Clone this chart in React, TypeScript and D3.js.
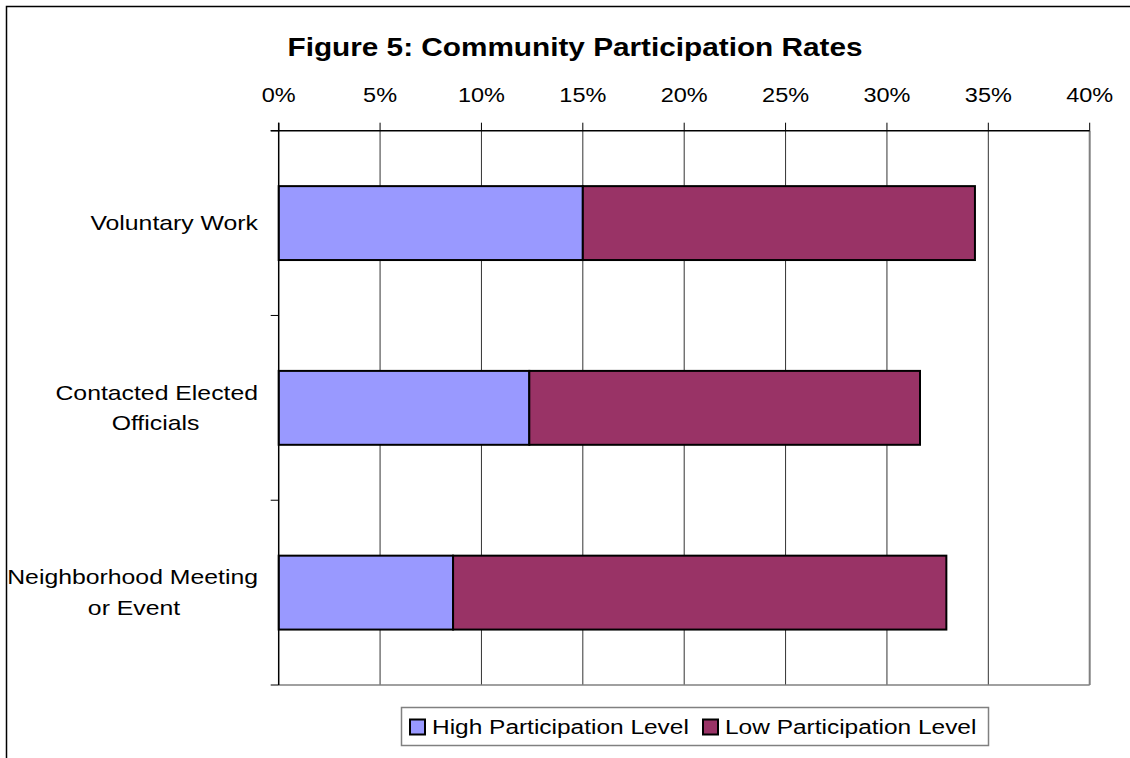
import React from "react";
import * as d3 from "d3";

const categories = ["Voluntary Work", "Contacted Elected Officials", "Neighborhood Meeting or Event"];
const categoryLines = [["Voluntary Work"], ["Contacted Elected", "Officials"], ["Neighborhood Meeting", "or Event"]];
const highValues = [15.0, 12.36, 8.6];
const lowValues = [19.34, 19.27, 24.33];
const xTicks = [0, 5, 10, 15, 20, 25, 30, 35, 40];
const seriesNames = ["High Participation Level", "Low Participation Level"];
const seriesColors = ["#9999FF", "#993366"];
const title = "Figure 5: Community Participation Rates";

const W = 1130;
const H = 758;
const left = 278.7;
const right = 1089.7;
const top = 130.7;
const bottom = 685;
const FONT = "Arial, 'Liberation Sans', sans-serif";

function Label(props: { x: number; y: number; sx: number; size: number; anchor?: string; bold?: boolean; children: React.ReactNode }) {
  const { x, y, sx, size, anchor, bold, children } = props;
  return (
    <text
      transform={`translate(${x},${y}) scale(${sx},1)`}
      textAnchor={anchor || "start"}
      fontSize={size}
      fontWeight={bold ? "bold" : "normal"}
      fill="#000"
    >
      {children}
    </text>
  );
}

export default function App() {
  const x = d3.scaleLinear().domain([0, 40]).range([left, right]);
  const y = d3.scaleBand<string>().domain(categories).range([top, bottom]).paddingInner(0.6).paddingOuter(0.3);
  const catTickYs = d3.range(categories.length + 1).map((i) => top + (i * (bottom - top)) / categories.length);

  const stacked = categories.map((c, i) => {
    const h = highValues[i];
    const l = lowValues[i];
    return [
      { key: "high", x0: 0, x1: h, color: seriesColors[0] },
      { key: "low", x0: h, x1: h + l, color: seriesColors[1] },
    ];
  });

  return (
    <svg width={W} height={H} style={{ position: "absolute", left: 0, top: 0, background: "#fff" }} fontFamily={FONT}>
      <rect x={0} y={0} width={W} height={H} fill="#fff" />
      {/* outer frame */}
      <path d={`M6.5,${H} L6.5,6.5 L${W},6.5`} fill="none" stroke="#000" strokeWidth={1.5} />
      {/* title */}
      <Label x={575} y={56} sx={1.19} size={25} anchor="middle" bold>{title}</Label>
      {/* gridlines */}
      {xTicks.slice(1, -1).map((t) => (
        <line key={"g" + t} x1={x(t)} x2={x(t)} y1={top} y2={bottom} stroke="#333" strokeWidth={1} />
      ))}
      {/* plot border bottom & right (gray) */}
      <line x1={left} x2={right} y1={bottom} y2={bottom} stroke="#808080" strokeWidth={1.5} />
      <line x1={right} x2={right} y1={top} y2={bottom} stroke="#808080" strokeWidth={2} />
      {/* bars */}
      {categories.map((c, i) =>
        stacked[i].map((s) => (
          <rect
            key={c + s.key}
            x={x(s.x0)}
            y={y(c)!}
            width={x(s.x1) - x(s.x0)}
            height={y.bandwidth()}
            fill={s.color}
            stroke="#000"
            strokeWidth={2}
          />
        ))
      )}
      {/* top axis */}
      <line x1={left - 8} x2={right} y1={top} y2={top} stroke="#000" strokeWidth={1.5} />
      {xTicks.map((t) => (
        <g key={"t" + t}>
          <line x1={x(t)} x2={x(t)} y1={top - 8} y2={top} stroke="#000" strokeWidth={1} />
          <Label x={x(t)} y={102} sx={1.12} size={21} anchor="middle">{t + "%"}</Label>
        </g>
      ))}
      {/* left axis */}
      <line x1={left} x2={left} y1={top - 8} y2={bottom} stroke="#000" strokeWidth={1.5} />
      {catTickYs.map((ty, i) => (
        <line key={"ct" + i} x1={left - 8} x2={left} y1={ty} y2={ty} stroke="#000" strokeWidth={1} />
      ))}
      {/* category labels */}
      {categories.map((c, i) => {
        const lines = categoryLines[i];
        const cy = y(c)! + y.bandwidth() / 2;
        const lh = 30.5;
        const startY = cy - ((lines.length - 1) * lh) / 2 + 7;
        const lineW = lines.map((ln) => ln.length);
        return (
          <g key={"cl" + c}>
            {lines.map((ln, j) => {
              // multi-line labels are centred on the widest line, right-aligned block
              const isMulti = lines.length > 1;
              return isMulti ? (
                <Label key={j} x={258} y={startY + j * lh} sx={1.24} size={20} anchor="end">
                  {j === 0 ? ln : ""}
                </Label>
              ) : (
                <Label key={j} x={258} y={startY + j * lh} sx={1.24} size={20} anchor="end">{ln}</Label>
              );
            })}
          </g>
        );
      })}
      {/* second lines of multi-line labels are centred under the first line */}
      {categories.map((c, i) => {
        const lines = categoryLines[i];
        if (lines.length < 2) return null;
        const cy = y(c)! + y.bandwidth() / 2;
        const lh = 30.5;
        const startY = cy - ((lines.length - 1) * lh) / 2 + 7;
        const firstW = i === 1 ? 205 : 248;
        const centerX = 258 - firstW / 2;
        return (
          <Label key={"cl2" + c} x={centerX} y={startY + lh} sx={1.24} size={20} anchor="middle">{lines[1]}</Label>
        );
      })}
      {/* legend */}
      <rect x={401.5} y={707.5} width={587} height={38} fill="#fff" stroke="#808080" strokeWidth={1.5} />
      {seriesNames.map((n, i) => {
        const lx = i === 0 ? 410 : 703;
        return (
          <g key={n}>
            <rect x={lx} y={719.5} width={15} height={15} fill={seriesColors[i]} stroke="#000" strokeWidth={2} />
            <Label x={lx + 22} y={734} sx={1.165} size={21}>{n}</Label>
          </g>
        );
      })}
    </svg>
  );
}
